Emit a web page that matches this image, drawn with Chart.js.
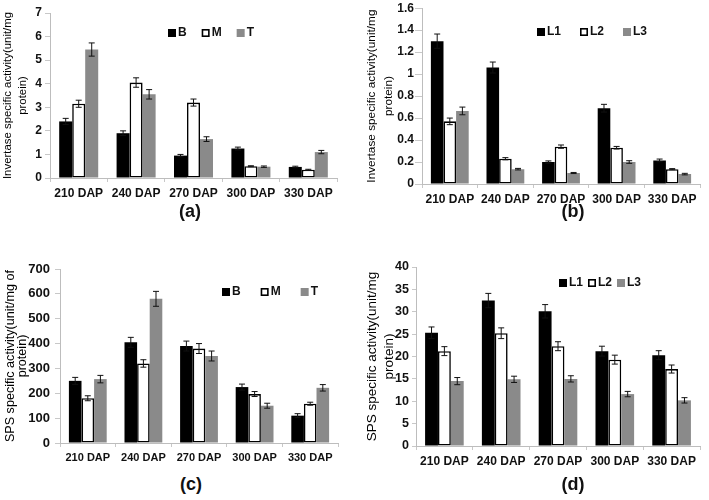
<!DOCTYPE html>
<html>
<head>
<meta charset="utf-8">
<script src="https://cdn.jsdelivr.net/npm/chart.js@4.4.1/dist/chart.umd.min.js"></script>
<style>
  body { margin: 0; background: #fff; }
  #fig { position: relative; width: 709px; height: 500px; background: #fff; overflow: hidden; }
  canvas { position: absolute; }
  .lab { position: absolute; width: 60px; margin-left: -30px; text-align: center;
         font: bold 18px 'Liberation Sans Narrow', 'Liberation Sans', Arial, sans-serif; color: #111; }
</style>
</head>
<body>
<div id="fig">
  <canvas id="chartA" width="345" height="205" style="left:0;top:0"></canvas>
  <canvas id="chartB" width="355" height="208" style="left:354px;top:0"></canvas>
  <canvas id="chartC" width="345" height="222" style="left:0;top:250px"></canvas>
  <canvas id="chartD" width="355" height="225" style="left:354px;top:250px"></canvas>
  <div class="lab" style="left:190px;top:201px">(a)</div>
  <div class="lab" style="left:573px;top:201px">(b)</div>
  <div class="lab" style="left:191px;top:474px">(c)</div>
  <div class="lab" style="left:573px;top:474px">(d)</div>
</div>
<script>
// categories and series
const categories = ['210 DAP', '240 DAP', '270 DAP', '300 DAP', '330 DAP'];
const namesBMT = ['B', 'M', 'T'];
const namesL = ['L1', 'L2', 'L3'];

// (a) invertase, B / M / T
const invB = [2.4, 1.9, 0.95, 1.25, 0.47];
const invM = [3.15, 4.05, 3.2, 0.5, 0.35];
const invT = [5.45, 3.55, 1.65, 0.48, 1.1];
const invBErr = [0.13, 0.1, 0.05, 0.06, 0.03];
const invMErr = [0.15, 0.2, 0.15, 0.02, 0.02];
const invTErr = [0.28, 0.2, 0.1, 0.03, 0.07];

// (b) invertase, L1 / L2 / L3
const invL1 = [1.3, 1.06, 0.2, 0.69, 0.215];
const invL2 = [0.57, 0.23, 0.34, 0.33, 0.135];
const invL3 = [0.665, 0.135, 0.1, 0.2, 0.09];
const invL1Err = [0.065, 0.05, 0.01, 0.035, 0.012];
const invL2Err = [0.03, 0.01, 0.015, 0.012, 0.005];
const invL3Err = [0.035, 0.007, 0.005, 0.012, 0.007];

// (c) SPS, B / M / T
const spsB = [250, 405, 390, 225, 110];
const spsM = [180, 320, 380, 197, 158];
const spsT = [257, 580, 350, 150, 222];
const spsBErr = [14, 20, 20, 12, 8];
const spsMErr = [10, 15, 20, 10, 6];
const spsTErr = [15, 30, 20, 10, 13];

// (d) SPS, L1 / L2 / L3
const spsL1 = [25.3, 32.5, 30.1, 21.2, 20.3];
const spsL2 = [21.2, 25.2, 22.3, 19.3, 17.2];
const spsL3 = [14.5, 14.9, 15.0, 11.6, 10.2];
const spsL1Err = [1.3, 1.6, 1.5, 1.1, 1.0];
const spsL2Err = [1.0, 1.2, 1.0, 1.0, 0.9];
const spsL3Err = [0.8, 0.7, 0.7, 0.6, 0.6];

// y axis ranges
const yMaxA = 7, yStepA = 1;
const yMaxB = 1.6, yStepB = 0.2;
const yMaxC = 700, yStepC = 100;
const yMaxD = 40, yStepD = 5;

const FONT = "'Liberation Sans', Arial, sans-serif";
const barStyles = [
  { backgroundColor: '#000', borderColor: '#000', borderWidth: 0 },
  { backgroundColor: '#fff', borderColor: '#000', borderWidth: 1.6 },
  { backgroundColor: '#8a8a8a', borderColor: '#8a8a8a', borderWidth: 0 }
];

// error bars drawn from the y scale
const errorBars = {
  id: 'errorBars',
  afterDatasetsDraw(chart) {
    const ctx = chart.ctx, y = chart.scales.y;
    ctx.save();
    ctx.strokeStyle = '#111';
    ctx.lineWidth = 1;
    chart.data.datasets.forEach((ds, i) => {
      chart.getDatasetMeta(i).data.forEach((bar, j) => {
        const v = ds.data[j], e = ds.errors[j];
        const top = y.getPixelForValue(v + e), bot = y.getPixelForValue(v - e);
        ctx.beginPath();
        ctx.moveTo(bar.x, top); ctx.lineTo(bar.x, bot);
        ctx.moveTo(bar.x - 3, top); ctx.lineTo(bar.x + 3, top);
        ctx.moveTo(bar.x - 3, bot); ctx.lineTo(bar.x + 3, bot);
        ctx.stroke();
      });
    });
    ctx.restore();
  }
};

// legend inside the plot
const innerLegend = {
  id: 'innerLegend',
  afterDraw(chart, args, o) {
    const ctx = chart.ctx;
    ctx.save();
    ctx.font = 'bold 12px ' + FONT;
    ctx.textBaseline = 'middle';
    let x = o.x;
    chart.data.datasets.forEach((ds, i) => {
      const s = 8;
      ctx.fillStyle = ds.backgroundColor;
      ctx.fillRect(x, o.y - s / 2, s, s);
      if (i === 1) {
        ctx.strokeStyle = '#000'; ctx.lineWidth = 1.6;
        ctx.strokeRect(x + 0.8, o.y - s / 2 + 0.8, s - 1.6, s - 1.6);
      }
      x += s + 2;
      ctx.fillStyle = '#111';
      ctx.fillText(ds.label, x, o.y);
      x += ctx.measureText(ds.label).width + o.gap;
    });
    ctx.restore();
  }
};

function makePanel(id, names, series, errs, yMax, yStep, yTitle, lay) {
  const datasets = series.map((d, i) => Object.assign({
    label: names[i], data: d, errors: errs[i],
    borderSkipped: false, categoryPercentage: 0.68, barPercentage: 1.0
  }, barStyles[i]));
  return new Chart(document.getElementById(id), {
    type: 'bar',
    data: { labels: categories, datasets: datasets },
    plugins: [errorBars, innerLegend],
    options: {
      responsive: false,
      animation: false,
      layout: { padding: { left: 0, right: lay.right, top: lay.top, bottom: 0 } },
      plugins: {
        legend: { display: false },
        tooltip: { enabled: false },
        innerLegend: lay.legend
      },
      scales: {
        x: {
          grid: { display: true, offset: true, drawOnChartArea: false, color: '#c8c8c8', tickLength: 4 },
          border: { color: '#bdbdbd' },
          ticks: { color: '#111', font: { family: FONT, size: lay.xFont, weight: 'bold' }, padding: 4, maxRotation: 0, autoSkip: false },
          afterFit(s) { s.height = lay.xHeight; }
        },
        y: {
          min: 0, max: yMax,
          grid: { display: true, drawOnChartArea: false, color: '#c8c8c8', tickLength: lay.yTick },
          border: { color: '#bdbdbd' },
          ticks: {
            stepSize: yStep, color: '#111', padding: lay.yPad,
            font: { family: FONT, size: lay.yFont, weight: 'bold' },
            callback: v => String(+v.toFixed(1))
          },
          title: {
            display: true, text: yTitle, color: '#000',
            font: { family: FONT, size: lay.tFont, lineHeight: lay.tLine },
            padding: { top: lay.tPad, bottom: 0 }
          },
          afterFit(s) { s.width = lay.yWidth; }
        }
      }
    }
  });
}

makePanel('chartA', namesBMT, [invB, invM, invT], [invBErr, invMErr, invTErr], yMaxA, yStepA,
  ['Invertase specific activity(unit/mg', 'protein)'],
  { right: 8, top: 13, yWidth: 50, xHeight: 27, xFont: 12, yFont: 12, yPad: 3, yTick: 5,
    tFont: 11.4, tLine: 1.32, tPad: 0, legend: { x: 168, y: 33, gap: 15 } });

makePanel('chartB', namesL, [invL1, invL2, invL3], [invL1Err, invL2Err, invL3Err], yMaxB, yStepB,
  ['Invertase specific activity(unit/mg', 'protein)'],
  { right: 9, top: 8, yWidth: 68, xHeight: 24, xFont: 12, yFont: 12, yPad: 1, yTick: 7,
    tFont: 11.8, tLine: 1.44, tPad: 9.5, legend: { x: 183, y: 32, gap: 19 } });

makePanel('chartC', namesBMT, [spsB, spsM, spsT], [spsBErr, spsMErr, spsTErr], yMaxC, yStepC,
  ['SPS specific activity(unit/mg of', 'protein)'],
  { right: 7, top: 19, yWidth: 60, xHeight: 29, xFont: 11, yFont: 13, yPad: 5, yTick: 5,
    tFont: 12.6, tLine: 1.0, tPad: 4, legend: { x: 222, y: 42, gap: 20 } });

makePanel('chartD', namesL, [spsL1, spsL2, spsL3], [spsL1Err, spsL2Err, spsL3Err], yMaxD, yStepD,
  ['SPS specific activity(unit/mg', 'protein)'],
  { right: 9, top: 17, yWidth: 62, xHeight: 29, xFont: 12, yFont: 12.5, yPad: 3, yTick: 4,
    tFont: 13.5, tLine: 1.26, tPad: 9.5, legend: { x: 205, y: 33, gap: 5 } });
</script>
</body>
</html>
